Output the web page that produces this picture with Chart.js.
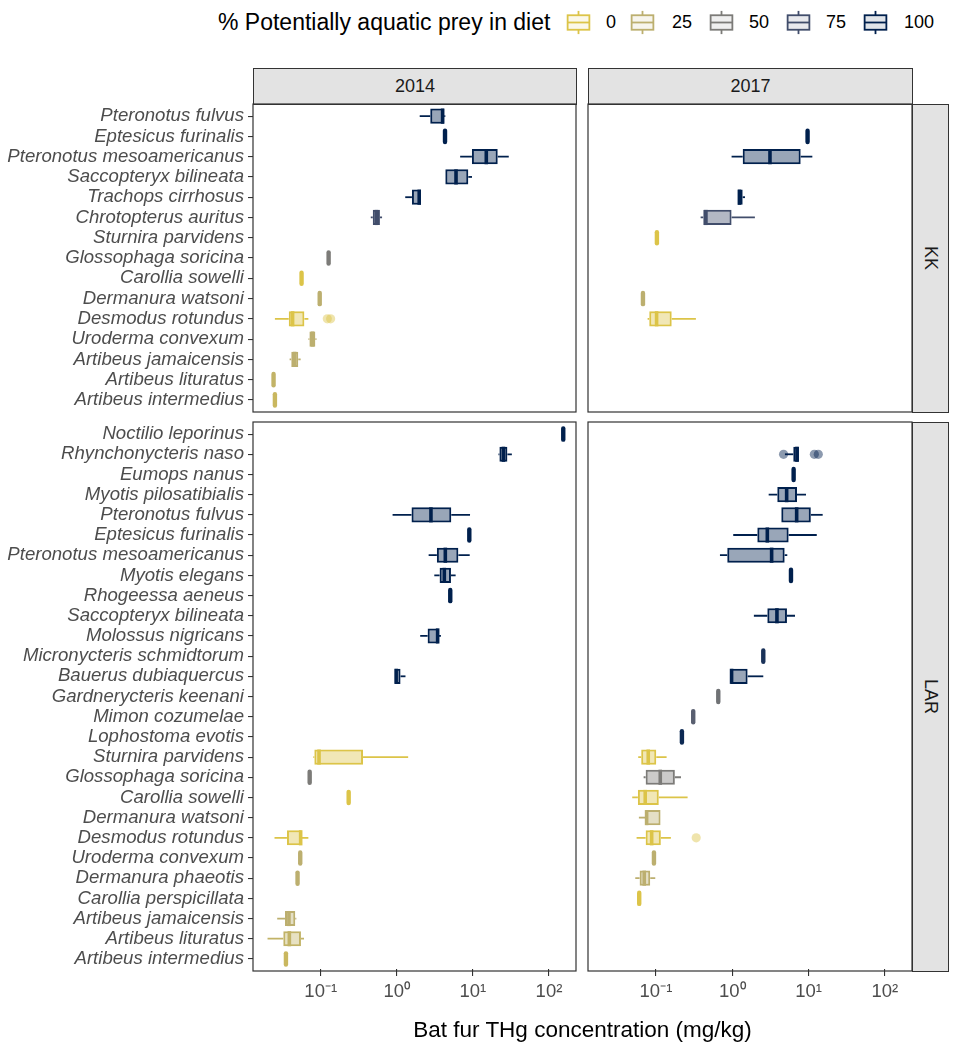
<!DOCTYPE html>
<html><head><meta charset="utf-8">
<script src="https://cdn.jsdelivr.net/npm/chart.js@4.4.1/dist/chart.umd.min.js"></script>
<style>
html,body{margin:0;padding:0;background:#fff;}
body{width:956px;height:1050px;position:relative;overflow:hidden;font-family:"Liberation Sans",Arial,Helvetica,sans-serif;}
canvas{position:absolute;}
.strip{position:absolute;background:#E3E3E3;border:1.2px solid #333;box-sizing:border-box;display:flex;align-items:center;justify-content:center;font-size:18px;color:#1A1A1A;}
.vtext{writing-mode:vertical-rl;}
.ltitle{position:absolute;font-size:23px;color:#000;white-space:nowrap;line-height:26px;}
.llabel{position:absolute;font-size:18px;color:#000;line-height:22px;white-space:nowrap;}
.xtitle{position:absolute;font-size:22.5px;color:#000;white-space:nowrap;text-align:center;line-height:26px;}
</style></head><body>

<div class="ltitle" style="left:218px;top:9px;">% Potentially aquatic prey in diet</div>
<div id="legendKeys"></div>

<div class="strip" style="left:253px;top:68px;width:324px;height:37px;">2014</div>
<div class="strip" style="left:588px;top:68px;width:325px;height:37px;">2017</div>
<div class="strip" style="left:912px;top:104px;width:37px;height:309px;"><span class="vtext">KK</span></div>
<div class="strip" style="left:912px;top:422px;width:37px;height:550px;"><span class="vtext">LAR</span></div>

<canvas id="kk2014"></canvas>
<canvas id="kk2017"></canvas>
<canvas id="lar2014"></canvas>
<canvas id="lar2017"></canvas>

<div class="xtitle" style="left:253px;width:659px;top:1017px;">Bat fur THg concentration (mg/kg)</div>

<script>
// ---------- DATA ----------
const legendValues = [0, 25, 50, 75, 100];
const legendColors = ['#DCC448', '#BCAF6F', '#7C7B78', '#414D6B', '#00204D'];

const xTickValues = [0.1, 1, 10, 100];
const xTickLabels = ['10\u207B\u00B9', '10\u2070', '10\u00B9', '10\u00B2'];

const kkSpecies = ["Pteronotus fulvus","Eptesicus furinalis","Pteronotus mesoamericanus","Saccopteryx bilineata","Trachops cirrhosus","Chrotopterus auritus","Sturnira parvidens","Glossophaga soricina","Carollia sowelli","Dermanura watsoni","Desmodus rotundus","Uroderma convexum","Artibeus jamaicensis","Artibeus lituratus","Artibeus intermedius"];
const kkAquatic = [100,100,100,100,100,75,0,50,0,25,0,25,25,20,15];

const kk2014Min = [2.0, 4.3, 6.8, 4.34, 1.29, 0.455, null, 0.127, 0.056, 0.097, 0.025, 0.069, 0.039, 0.024, 0.025];
const kk2014Q1  = [2.75, 4.3, 9.7, 4.34, 1.58, 0.483, null, 0.127, 0.056, 0.097, 0.038, 0.071, 0.041, 0.024, 0.025];
const kk2014Med = [4.0, 4.3, 15.0, 6.0, 1.97, 0.54, null, 0.127, 0.056, 0.097, 0.0427, 0.078, 0.0454, 0.024, 0.025];
const kk2014Q3  = [4.2, 4.3, 21.2, 8.7, 2.08, 0.60, null, 0.127, 0.056, 0.097, 0.061, 0.085, 0.0507, 0.024, 0.025];
const kk2014Max = [4.34, 4.3, 29.6, 9.73, 2.08, 0.64, null, 0.127, 0.056, 0.097, 0.0688, 0.088, 0.0545, 0.024, 0.025];
const kk2014OutSpecies = ["Desmodus rotundus","Desmodus rotundus"];
const kk2014OutValues  = [0.122, 0.135];

const kk2017Min = [null, 9.7, 0.98, null, 1.19, 0.385, 0.103, null, null, 0.0676, 0.0778, null, null, null, null];
const kk2017Q1  = [null, 9.7, 1.37, null, 1.19, 0.417, 0.103, null, null, 0.0676, 0.0817, null, null, null, null];
const kk2017Med = [null, 9.7, 3.12, null, 1.24, 0.452, 0.103, null, null, 0.0676, 0.102, null, null, null, null];
const kk2017Q3  = [null, 9.7, 7.88, null, 1.37, 0.98, 0.103, null, null, 0.0676, 0.161, null, null, null, null];
const kk2017Max = [null, 9.7, 11.2, null, 1.47, 1.98, 0.103, null, null, 0.0676, 0.334, null, null, null, null];
const kk2017OutSpecies = [];
const kk2017OutValues  = [];

const larSpecies = ["Noctilio leporinus","Rhynchonycteris naso","Eumops nanus","Myotis pilosatibialis","Pteronotus fulvus","Eptesicus furinalis","Pteronotus mesoamericanus","Myotis elegans","Rhogeessa aeneus","Saccopteryx bilineata","Molossus nigricans","Micronycteris schmidtorum","Bauerus dubiaquercus","Gardnerycteris keenani","Mimon cozumelae","Lophostoma evotis","Sturnira parvidens","Glossophaga soricina","Carollia sowelli","Dermanura watsoni","Desmodus rotundus","Uroderma convexum","Dermanura phaeotis","Carollia perspicillata","Artibeus jamaicensis","Artibeus lituratus","Artibeus intermedius"];
const larAquatic = [100,100,100,100,100,100,100,100,100,100,100,90,100,55,65,95,0,50,0,25,0,25,25,0,25,20,15];

const lar2014Min = [154, 21.7, null, null, 0.88, 8.97, 2.62, 3.11, 5.04, null, 2.03, null, 0.94, null, null, null, 0.080, 0.0716, 0.233, null, 0.0247, 0.0538, 0.0496, null, 0.0268, 0.020, 0.0349];
const lar2014Q1  = [154, 22.3, null, null, 1.56, 8.97, 3.36, 3.65, 5.04, null, 2.54, null, 0.94, null, null, null, 0.0824, 0.0716, 0.233, null, 0.036, 0.0538, 0.0496, null, 0.0339, 0.0322, 0.0349];
const lar2014Med = [154, 25.2, null, null, 2.81, 8.97, 4.34, 4.21, 5.04, null, 3.44, null, 0.98, null, null, null, 0.095, 0.0716, 0.233, null, 0.0545, 0.0538, 0.0496, null, 0.0382, 0.0387, 0.0349];
const lar2014Q3  = [154, 28.4, null, null, 5.2, 8.97, 6.44, 5.15, 5.04, null, 3.54, null, 1.12, null, null, null, 0.36, 0.0716, 0.233, null, 0.0562, 0.0538, 0.0496, null, 0.0463, 0.055, 0.0349];
const lar2014Max = [154, 32.5, null, null, 9.17, 8.97, 9.08, 5.93, 5.04, null, 3.8, null, 1.3, null, null, null, 1.41, 0.0716, 0.233, null, 0.0688, 0.0538, 0.0496, null, 0.0478, 0.0603, 0.0349];
const lar2014OutSpecies = [];
const lar2014OutValues  = [];

const lar2017Min = [null, 4.9, 6.37, 3.0, 4.39, 1.03, 0.69, 5.88, null, 1.92, null, 2.55, 0.953, 0.656, 0.308, 0.219, 0.0586, 0.069, 0.0489, 0.0598, 0.0558, 0.0942, 0.0536, 0.0604, null, null, null];
const lar2017Q1  = [null, 6.3, 6.37, 3.89, 4.39, 2.13, 0.86, 5.88, null, 2.88, null, 2.55, 0.953, 0.656, 0.308, 0.219, 0.0641, 0.0733, 0.058, 0.0733, 0.0733, 0.0942, 0.0611, 0.0604, null, null, null];
const lar2017Med = [null, 7.05, 6.37, 5.16, 6.98, 2.88, 3.28, 5.88, null, 3.85, null, 2.55, 0.98, 0.656, 0.308, 0.219, 0.0793, 0.114, 0.0724, 0.0755, 0.0879, 0.0942, 0.0703, 0.0604, null, null, null];
const lar2017Q3  = [null, 7.48, 6.37, 7.05, 10.7, 5.48, 4.86, 5.88, null, 5.21, null, 2.55, 1.59, 0.656, 0.308, 0.219, 0.101, 0.177, 0.109, 0.115, 0.116, 0.0942, 0.0842, 0.0604, null, null, null];
const lar2017Max = [null, 7.48, 6.37, 9.25, 15.3, 12.8, 5.26, 5.88, null, 6.64, null, 2.55, 2.55, 0.656, 0.308, 0.219, 0.138, 0.213, 0.26, 0.115, 0.157, 0.0942, 0.098, 0.0604, null, null, null];
const lar2017OutSpecies = ["Rhynchonycteris naso","Rhynchonycteris naso","Rhynchonycteris naso","Desmodus rotundus"];
const lar2017OutValues  = [4.7, 11.9, 13.4, 0.337];

// ---------- HELPERS ----------
const FONT = '"Liberation Sans", Arial, Helvetica, sans-serif';
const X_MIN = Math.pow(10, -1.89), X_MAX = Math.pow(10, 2.355);

function hexToRgb(h){ return [parseInt(h.slice(1,3),16), parseInt(h.slice(3,5),16), parseInt(h.slice(5,7),16)]; }
function rgbToHex(c){ return '#' + c.map(v => Math.round(v).toString(16).padStart(2,'0')).join(''); }
function aquaColor(p){
  for (let k = 0; k < legendValues.length - 1; k++) {
    if (p <= legendValues[k+1]) {
      const t = (p - legendValues[k]) / (legendValues[k+1] - legendValues[k]);
      const a = hexToRgb(legendColors[k]), b = hexToRgb(legendColors[k+1]);
      return rgbToHex(a.map((v,i) => v + (b[i]-v)*t));
    }
  }
  return legendColors[legendColors.length-1];
}
function rgba(hex, a){ const c = hexToRgb(hex); return `rgba(${c[0]},${c[1]},${c[2]},${a})`; }

function boxPlugin(p){
  return {
    id: 'boxes_' + p.id,
    beforeDatasetsDraw(chart){
      const ctx = chart.ctx, xs = chart.scales.x, ys = chart.scales.y;
      ctx.save(); ctx.lineWidth = 1.8; ctx.lineCap = 'butt';
      p.species.forEach((s,i) => {
        if (p.mn[i] == null) return;
        const y = ys.getPixelForValue(i);
        ctx.strokeStyle = p.colors[i];
        ctx.beginPath();
        ctx.moveTo(xs.getPixelForValue(p.mn[i]), y); ctx.lineTo(xs.getPixelForValue(p.q1[i]), y);
        ctx.moveTo(xs.getPixelForValue(p.q3[i]), y); ctx.lineTo(xs.getPixelForValue(p.mx[i]), y);
        ctx.stroke();
      });
      ctx.restore();
    },
    afterDatasetsDraw(chart){
      const ctx = chart.ctx, xs = chart.scales.x, ys = chart.scales.y;
      const band = Math.abs(ys.getPixelForValue(1) - ys.getPixelForValue(0));
      const half = band * 0.375;
      ctx.save();
      p.species.forEach((s,i) => {
        if (p.md[i] == null) return;
        const y = ys.getPixelForValue(i), x = xs.getPixelForValue(p.md[i]);
        const degenerate = p.q1[i] === p.q3[i];
        ctx.strokeStyle = p.colors[i];
        ctx.lineWidth = degenerate ? 4.4 : 3.6;
        ctx.lineCap = degenerate ? 'round' : 'butt';
        const h = degenerate ? half - 2 : half;
        ctx.beginPath(); ctx.moveTo(x, y - h); ctx.lineTo(x, y + h); ctx.stroke();
      });
      const a = chart.chartArea;
      ctx.strokeStyle = '#333333'; ctx.lineWidth = 1.2; ctx.lineCap = 'butt';
      ctx.strokeRect(a.left, a.top - 2, a.right - a.left, a.bottom - a.top + 4);
      ctx.restore();
    }
  };
}

function buildPanel(p){
  const cv = document.getElementById(p.id);
  cv.width = p.geom.w; cv.height = p.geom.h;
  cv.style.left = p.geom.left + 'px'; cv.style.top = p.geom.top + 'px';
  cv.style.width = p.geom.w + 'px'; cv.style.height = p.geom.h + 'px';
  p.colors = p.aquatic.map(aquaColor);

  const yAxisW = p.showY ? (p.area.l - p.geom.left) : 0;
  const xAxisH = p.showX ? 40 : 0;
  const padding = {
    left: p.area.l - p.geom.left - yAxisW,
    right: p.geom.left + p.geom.w - p.area.r,
    top: p.area.t - p.geom.top,
    bottom: p.geom.top + p.geom.h - p.area.b - xAxisH
  };

  new Chart(cv, {
    type: 'bar',
    data: {
      labels: p.species,
      datasets: [
        {
          type: 'bar',
          data: p.q1.map((v,i) => v == null ? null : [v, p.q3[i]]),
          backgroundColor: p.colors.map(c => rgba(c, 0.4)),
          borderColor: p.colors,
          borderWidth: 2,
          borderSkipped: false,
          categoryPercentage: 1,
          barPercentage: 0.75,
          grouped: false
        },
        {
          type: 'scatter',
          data: p.outSpecies.map((s,k) => ({x: p.outValues[k], y: s})),
          pointRadius: 4.6,
          pointBorderWidth: 0,
          pointBackgroundColor: p.outSpecies.map(s => rgba(p.colors[p.species.indexOf(s)], 0.45))
        }
      ]
    },
    options: {
      indexAxis: 'y',
      responsive: false,
      animation: false,
      events: [],
      devicePixelRatio: 1,
      layout: { padding, autoPadding: false },
      plugins: { legend: {display:false}, tooltip: {enabled:false} },
      scales: {
        x: {
          type: 'logarithmic', min: X_MIN, max: X_MAX, position: 'bottom',
          display: p.showX,
          afterBuildTicks(s){ s.ticks = xTickValues.map(v => ({value: v})); },
          afterFit(s){ if (p.showX) s.height = xAxisH; },
          ticks: {
            callback: (v, i) => xTickLabels[i],
            font: {family: FONT, size: 18.5}, color: '#4D4D4D', padding: 5,
            maxRotation: 0, autoSkip: false
          },
          grid: { drawOnChartArea: false, drawTicks: true, tickLength: 7, color: '#333333', lineWidth: 1.1, offset: false },
          border: { display: false }
        },
        y: {
          type: 'category', position: 'left', offset: true,
          display: p.showY,
          afterFit(s){ if (p.showY) s.width = yAxisW; },
          ticks: {
            font: {family: FONT, size: 18.6, style: 'italic'}, color: '#4D4D4D', padding: 4, autoSkip: false
          },
          grid: { drawOnChartArea: false, drawTicks: true, tickLength: 5, color: '#333333', lineWidth: 1.1, offset: false },
          border: { display: false }
        }
      }
    },
    plugins: [boxPlugin(p)]
  });
}

// ---------- PANELS ----------
const KK_AREA_T = 106, KK_AREA_B = 410, LAR_AREA_T = 424, LAR_AREA_B = 969;
const LEFT_L = 253, LEFT_R = 576, RIGHT_L = 588, RIGHT_R = 912;

buildPanel({ id:'kk2014', species:kkSpecies, aquatic:kkAquatic,
  mn:kk2014Min, q1:kk2014Q1, md:kk2014Med, q3:kk2014Q3, mx:kk2014Max,
  outSpecies:kk2014OutSpecies, outValues:kk2014OutValues, showY:true, showX:false,
  geom:{left:0, top:80, w:600, h:360}, area:{l:LEFT_L, r:LEFT_R, t:KK_AREA_T, b:KK_AREA_B} });
buildPanel({ id:'kk2017', species:kkSpecies, aquatic:kkAquatic,
  mn:kk2017Min, q1:kk2017Q1, md:kk2017Med, q3:kk2017Q3, mx:kk2017Max,
  outSpecies:kk2017OutSpecies, outValues:kk2017OutValues, showY:false, showX:false,
  geom:{left:560, top:80, w:380, h:360}, area:{l:RIGHT_L, r:RIGHT_R, t:KK_AREA_T, b:KK_AREA_B} });
buildPanel({ id:'lar2014', species:larSpecies, aquatic:larAquatic,
  mn:lar2014Min, q1:lar2014Q1, md:lar2014Med, q3:lar2014Q3, mx:lar2014Max,
  outSpecies:lar2014OutSpecies, outValues:lar2014OutValues, showY:true, showX:true,
  geom:{left:0, top:400, w:600, h:640}, area:{l:LEFT_L, r:LEFT_R, t:LAR_AREA_T, b:LAR_AREA_B} });
buildPanel({ id:'lar2017', species:larSpecies, aquatic:larAquatic,
  mn:lar2017Min, q1:lar2017Q1, md:lar2017Med, q3:lar2017Q3, mx:lar2017Max,
  outSpecies:lar2017OutSpecies, outValues:lar2017OutValues, showY:false, showX:true,
  geom:{left:560, top:400, w:380, h:640}, area:{l:RIGHT_L, r:RIGHT_R, t:LAR_AREA_T, b:LAR_AREA_B} });

// ---------- LEGEND ----------
const keyCenters = [578, 642.5, 721.5, 798.5, 875.5];
const labelLefts = [606, 672, 749, 826, 904];
const holder = document.getElementById('legendKeys');
legendValues.forEach((v, k) => {
  const c = legendColors[k];
  const W = 29, H = 29;
  const svg = `<svg width="${W}" height="${H}" style="position:absolute;left:${keyCenters[k]-W/2}px;top:${22-H/2}px" xmlns="http://www.w3.org/2000/svg">
    <line x1="${W/2}" y1="${H*0.1}" x2="${W/2}" y2="${H*0.25}" stroke="${c}" stroke-width="1.8"/>
    <line x1="${W/2}" y1="${H*0.75}" x2="${W/2}" y2="${H*0.9}" stroke="${c}" stroke-width="1.8"/>
    <rect x="${W*0.125}" y="${H*0.25}" width="${W*0.75}" height="${H*0.5}" fill="${rgba(c,0.12)}" stroke="${c}" stroke-width="1.8"/>
    <line x1="${W*0.125}" y1="${H/2}" x2="${W*0.875}" y2="${H/2}" stroke="${c}" stroke-width="1.8"/>
  </svg>`;
  holder.insertAdjacentHTML('beforeend', svg);
  holder.insertAdjacentHTML('beforeend', `<div class="llabel" style="left:${labelLefts[k]}px;top:11px;">${v}</div>`);
});
</script>
</body></html>
